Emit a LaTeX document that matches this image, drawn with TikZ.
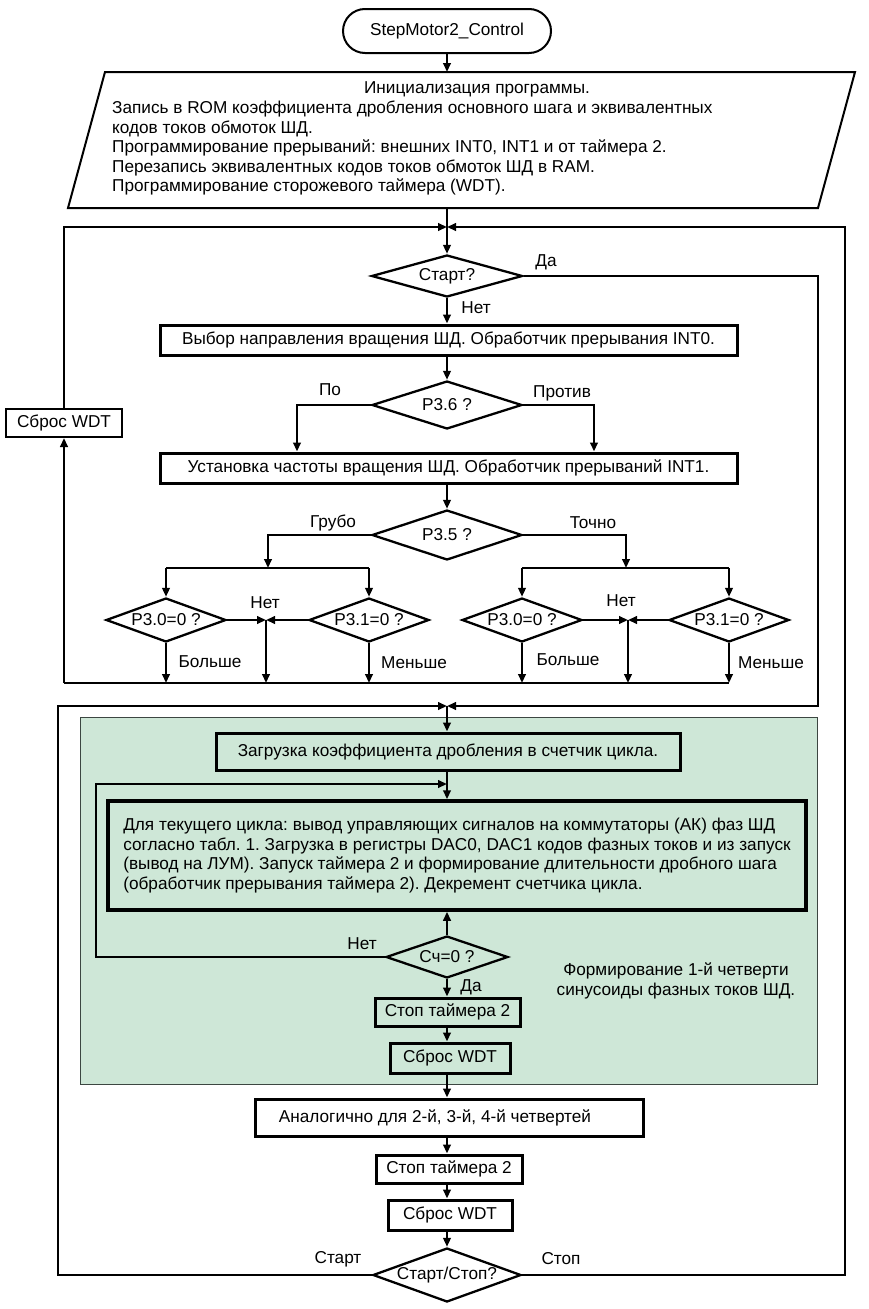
\documentclass[tikz,border=0pt]{standalone}
\usepackage{fontspec}
\setmainfont{Liberation Sans}
\usetikzlibrary{shapes.geometric,arrows.meta}
\definecolor{greenbg}{RGB}{206,231,215}
\definecolor{greenln}{RGB}{60,70,65}
\begin{document}
\frenchspacing
\begin{tikzpicture}[x=1pt,y=-1pt,
  font=\fontsize{17.2}{19.5}\selectfont,
  ln/.style={line width=2.8pt},
  arr/.style={line width=2.8pt,-{Triangle[length=9pt,width=7.5pt]}},
  box/.style={draw,line width=3pt,rectangle,inner sep=0pt,align=center},
  dec/.style={draw,line width=2.3pt,diamond,inner sep=0pt,aspect=3},
  lbl/.style={inner sep=0pt}
]
\useasboundingbox (0,0) rectangle (868,1309);

% green area
\node[draw=greenln,fill=greenbg,line width=1pt,minimum width=737pt,minimum height=367pt,inner sep=0pt] (green) at (448.5,900.5) {};

% terminator
\node[draw,line width=2pt,rectangle,rounded corners=22pt,minimum width=208pt,minimum height=44pt,inner sep=0pt] (term) at (447,31) {StepMotor2\_Control};

% init parallelogram
\draw[line width=2pt] (68,208) -- (105,72) -- (855,72) -- (818,208) -- cycle;
\node[lbl] (inittitle) at (477,89) {Инициализация программы.};
\node[lbl,anchor=north west,align=left] (init) at (112,101) {Запись в ROM коэффициента дробления основного шага и эквивалентных\\кодов токов обмоток ШД.\\Программирование прерываний: внешних INT0, INT1 и от таймера 2.\\Перезапись эквивалентных кодов токов обмоток ШД в RAM.\\Программирование сторожевого таймера (WDT).};
\coordinate (inittop) at (447,72);
\coordinate (initbot) at (447,208);

% coordinates
\coordinate (j1) at (447,227);
\coordinate (j2) at (447,706);
\coordinate (j3) at (447,784);
\coordinate (rtop) at (845,227);
\coordinate (daC) at (818,706);
\coordinate (stC) at (58,706);
\coordinate (loopL) at (96,784);
\coordinate (xPo) at (297,0);
\coordinate (xPr) at (594,0);
\coordinate (hL) at (268,568);
\coordinate (hR) at (626,568);
\coordinate (mL) at (266,620);
\coordinate (mR) at (628,620);
\coordinate (lbot) at (64,683);

% main nodes
\node[dec,minimum width=151pt,minimum height=42pt] (start) at (447,276) {Старт?};
\node[box,minimum width=577pt,minimum height=30pt] (b1) at (448.5,340) {Выбор направления вращения ШД. Обработчик прерывания INT0.};
\node[dec,minimum width=150pt,minimum height=48pt] (p36) at (447,405) {P3.6 ?};
\node[box,minimum width=577pt,minimum height=30pt] (b2) at (448.5,468) {Установка частоты вращения ШД. Обработчик прерываний INT1.};
\node[dec,minimum width=150pt,minimum height=50pt] (p35) at (447,535) {P3.5 ?};
\node[dec,minimum width=120pt,minimum height=44pt] (d1) at (166,620) {P3.0=0 ?};
\node[dec,minimum width=120pt,minimum height=44pt] (d2) at (369,620) {P3.1=0 ?};
\node[dec,minimum width=120pt,minimum height=44pt] (d3) at (522,620) {P3.0=0 ?};
\node[dec,minimum width=120pt,minimum height=44pt] (d4) at (729,620) {P3.1=0 ?};
\node[draw,line width=2pt,rectangle,minimum width=116pt,minimum height=28pt,inner sep=0pt] (wdt1) at (64,423) {Сброс WDT};

\node[box,minimum width=464pt,minimum height=37pt] (load) at (448,751.5) {Загрузка коэффициента дробления в счетчик цикла.};
\node[box,line width=3.5pt,align=left,minimum width=698pt,minimum height=109pt] (cyc) at (457,855.5) {Для текущего цикла: вывод управляющих сигналов на коммутаторы (АК) фаз ШД\\согласно табл. 1. Загрузка в регистры DAC0, DAC1 кодов фазных токов и из запуск\\(вывод на ЛУМ). Запуск таймера 2 и формирование длительности дробного шага\\(обработчик прерывания таймера 2). Декремент счетчика цикла.};
\node[dec,minimum width=122pt,minimum height=42pt] (cnt) at (447,957) {Сч=0 ?};
\node[box,minimum width=145pt,minimum height=28pt] (stop1) at (447.5,1012) {Стоп таймера 2};
\node[box,minimum width=120pt,minimum height=30pt] (wdt2) at (450,1058) {Сброс WDT};
\node[lbl,align=center] (form) at (676,981) {Формирование 1-й четверти\\синусоиды фазных токов ШД.};

\node[box,minimum width=388pt,minimum height=37pt] (anal) at (449,1117.5) {\hspace*{-28pt}Аналогично для 2-й, 3-й, 4-й четвертей};
\node[box,minimum width=146pt,minimum height=28pt] (stop2) at (449,1169) {Стоп таймера 2};
\node[box,minimum width=124pt,minimum height=30pt] (wdt3) at (450,1215) {Сброс WDT};
\node[dec,minimum width=147pt,minimum height=54pt] (ss) at (447,1275) {Старт/Стоп?};

% labels
\node[lbl] (lDa) at (546,262) {Да};
\node[lbl] (lNet) at (476,308) {Нет};
\node[lbl] (lPo) at (330,390) {По};
\node[lbl] (lPr) at (562,393) {Против};
\node[lbl] (lGr) at (333,523) {Грубо};
\node[lbl] (lTo) at (593,523) {Точно};
\node[lbl] (lN1) at (265,603) {Нет};
\node[lbl] (lN2) at (621,601) {Нет};
\node[lbl] (lB1) at (210,662) {Больше};
\node[lbl] (lM1) at (414,663) {Меньше};
\node[lbl] (lB2) at (568,660) {Больше};
\node[lbl] (lM2) at (771,663) {Меньше};
\node[lbl] (lN3) at (362,944) {Нет};
\node[lbl] (lD3) at (471,987) {Да};
\node[lbl] (lSt) at (338,1259) {Старт};
\node[lbl] (lSp) at (561,1259) {Стоп};

% connectors
\draw[arr] (term) -- (inittop);
\draw[ln] (initbot) -- (j1);
\draw[arr] (j1) -- (start.north);
\draw[arr] (wdt1.north) |- (j1);
\draw[arr] (ss.east) -| (rtop) -- (j1);
\draw[arr] (start.south) -- (b1.north -| start.south);
\draw[arr] (b1.south -| p36.north) -- (p36.north);
\draw[arr] (p36.west) -| (b2.north -| xPo);
\draw[arr] (p36.east) -| (b2.north -| xPr);
\draw[arr] (b2.south -| p35.north) -- (p35.north);
\draw[arr] (p35.west) -| (hL);
\draw[arr] (p35.east) -| (hR);
\draw[ln] (d1.north |- hL) -- (d2.north |- hL);
\draw[ln] (d3.north |- hR) -- (d4.north |- hR);
\draw[arr] (d1.north |- hL) -- (d1.north);
\draw[arr] (d2.north |- hL) -- (d2.north);
\draw[arr] (d3.north |- hR) -- (d3.north);
\draw[arr] (d4.north |- hR) -- (d4.north);
\draw[arr] (d1.east) -- (mL);
\draw[arr] (d2.west) -- (mL);
\draw[arr] (d3.east) -- (mR);
\draw[arr] (d4.west) -- (mR);
\draw[arr] (mL) -- (mL |- lbot);
\draw[arr] (mR) -- (mR |- lbot);
\draw[arr] (d1.south) -- (d1.south |- lbot);
\draw[arr] (d2.south) -- (d2.south |- lbot);
\draw[arr] (d3.south) -- (d3.south |- lbot);
\draw[arr] (d4.south) -- (d4.south |- lbot);
\draw[ln] (lbot) -- (d4.south |- lbot);
\draw[arr] (lbot) -- (wdt1.south);

\draw[arr] (start.east) -| (daC) -- (j2);
\draw[arr] (ss.west) -| (stC) -- (j2);
\draw[arr] (j2) -- (load.north -| j2);
\draw[arr] (load.south -| j2) -- (cyc.north -| j2);
\draw[arr] (cnt.west) -| (loopL) -- (j3);
\draw[arr] (cnt.north) -- (cyc.south -| cnt.north);
\draw[arr] (cnt.south) -- (stop1.north -| cnt.south);
\draw[arr] (stop1.south -| cnt.south) -- (wdt2.north -| cnt.south);
\draw[arr] (wdt2.south -| cnt.south) -- (anal.north -| cnt.south);
\draw[arr] (anal.south -| cnt.south) -- (stop2.north -| cnt.south);
\draw[arr] (stop2.south -| cnt.south) -- (wdt3.north -| cnt.south);
\draw[arr] (wdt3.south -| cnt.south) -- (ss.north);
\end{tikzpicture}
\end{document}
